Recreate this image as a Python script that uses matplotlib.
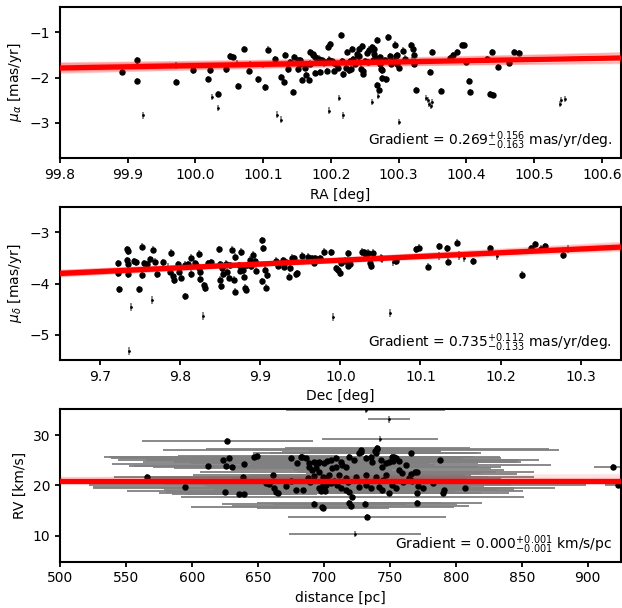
import numpy as np
import matplotlib
matplotlib.use('Agg')
import matplotlib.pyplot as plt

# ---- panel 1: RA vs proper motion in RA ----
ra = [99.891, 99.913, 99.913, 99.971, 99.997, 100.019, 100.021, 100.034, 100.045, 100.051,
      100.056, 100.063, 100.071, 100.079, 100.093, 100.103, 100.107, 100.117, 100.126, 100.131,
      100.132, 100.136, 100.144, 100.145, 100.151, 100.155, 100.151, 100.157, 100.162, 100.163,
      100.167, 100.169, 100.173, 100.177, 100.179, 100.169, 100.177, 100.174, 100.182, 100.187,
      100.192, 100.197, 100.201, 100.184, 100.194, 100.204, 100.196, 100.199, 100.207, 100.210,
      100.215, 100.216, 100.218, 100.222, 100.226, 100.229, 100.224, 100.231, 100.233, 100.235,
      100.240, 100.241, 100.238, 100.242, 100.244, 100.246, 100.248, 100.248, 100.250, 100.253,
      100.256, 100.261, 100.263, 100.264, 100.267, 100.268, 100.268, 100.271, 100.273, 100.275,
      100.274, 100.272, 100.275, 100.282, 100.285, 100.287, 100.288, 100.294, 100.296, 100.297,
      100.298, 100.301, 100.307, 100.319, 100.321, 100.322, 100.323, 100.325, 100.347, 100.349,
      100.362, 100.376, 100.381, 100.386, 100.394, 100.397, 100.399, 100.404, 100.406, 100.430,
      100.435, 100.439, 100.438, 100.447, 100.463, 100.470, 100.478, 100.185, 100.205, 100.228,
      100.255, 100.262, 100.280, 100.292, 100.310, 100.155, 100.140]
pmra = [-1.875, -1.62, -2.07, -2.10, -1.84, -2.03, -1.84, -2.36, -1.82, -1.53,
        -1.54, -2.19, -1.36, -1.85, -2.04, -2.22, -1.38, -1.59, -1.99, -2.10,
        -1.50, -1.82, -2.32, -1.54, -1.62, -1.62, -1.82, -2.06, -1.78, -1.95,
        -2.06, -1.44, -1.50, -1.54, -1.58, -1.69, -1.90, -1.47, -1.58, -1.62,
        -1.65, -1.60, -1.63, -1.88, -1.86, -1.86, -1.32, -1.25, -1.71, -1.78,
        -1.06, -1.63, -1.93, -1.78, -1.84, -1.80, -1.43, -1.36, -1.59, -1.70,
        -1.52, -1.37, -1.47, -1.53, -1.80, -1.31, -1.86, -1.91, -1.63, -1.45,
        -1.38, -1.32, -1.36, -1.48, -1.56, -1.17, -2.17, -2.28, -1.69, -1.84,
        -1.80, -1.55, -2.02, -2.04, -1.11, -1.53, -1.70, -1.27, -1.52, -1.50,
        -1.71, -1.78, -1.40, -1.28, -1.36, -1.50, -1.69, -2.28, -1.88, -1.44,
        -2.30, -1.56, -1.50, -1.43, -1.28, -1.28, -1.65, -2.08, -2.32, -1.59,
        -2.36, -2.38, -1.43, -1.76, -1.67, -1.43, -1.45, -1.66, -1.68, -1.64,
        -1.66, -1.60, -1.62, -1.63, -1.58, -1.70, -1.66]
ra_out = [99.922, 99.971, 100.024, 100.034, 100.062, 100.080, 100.120, 100.126, 100.197, 100.212,
          100.218, 100.261, 100.270, 100.300, 100.341, 100.343, 100.345, 100.348, 100.350, 100.538,
          100.540, 100.545, 100.100, 100.190, 100.320]
pmra_out = [-2.84, -1.73, -2.43, -2.68, -1.67, -1.70, -2.82, -2.93, -2.73, -2.45,
            -2.84, -2.54, -2.41, -2.99, -2.45, -2.50, -2.58, -2.62, -2.55, -2.58,
            -2.50, -2.47, -1.72, -1.70, -1.62]
pmra_fit = -1.68        # value at RA = 100.2
pmra_grad = 0.269
pmra_samples_grad = [0.11, 0.15, 0.19, 0.23, 0.27, 0.31, 0.35, 0.39, 0.43, 0.25, 0.29, 0.12, 0.42, 0.20]
pmra_samples_off = [-0.05, 0.06, -0.07, 0.04, 0.0, -0.04, 0.07, -0.02, 0.03, 0.08, -0.08, 0.03, -0.05, 0.02]

# ---- panel 2: Dec vs proper motion in Dec ----
dec = [9.723, 9.723, 9.724, 9.733, 9.735, 9.733, 9.735, 9.735, 9.742, 9.745,
       9.748, 9.752, 9.752, 9.755, 9.758, 9.762, 9.766, 9.769, 9.771, 9.778,
       9.787, 9.788, 9.791, 9.792, 9.797, 9.799, 9.801, 9.806, 9.806, 9.810,
       9.813, 9.814, 9.818, 9.820, 9.823, 9.824, 9.825, 9.825, 9.830, 9.831,
       9.835, 9.838, 9.849, 9.850, 9.852, 9.853, 9.850, 9.851, 9.857, 9.859,
       9.861, 9.862, 9.865, 9.868, 9.867, 9.869, 9.873, 9.875, 9.877, 9.876,
       9.879, 9.880, 9.881, 9.882, 9.883, 9.887, 9.889, 9.891, 9.893, 9.895,
       9.902, 9.904, 9.902, 9.906, 9.908, 9.907, 9.920, 9.922, 9.928, 9.930,
       9.932, 9.937, 9.936, 9.940, 9.942, 9.944, 9.946, 9.952, 9.960, 9.964,
       9.967, 9.968, 9.975, 9.979, 9.988, 9.995, 9.997, 10.000, 10.001, 10.006,
       10.009, 10.010, 10.012, 10.027, 10.030, 10.032, 10.034, 10.037, 10.038, 10.041,
       10.051, 10.070, 10.094, 10.098, 10.109, 10.123, 10.133, 10.134, 10.146, 10.165,
       10.187, 10.227, 10.2375, 10.243, 10.251, 10.255, 10.278]
pmdec = [-3.60, -3.80, -4.11, -3.33, -3.36, -3.54, -3.62, -3.81, -3.56, -3.58,
         -4.11, -3.28, -3.83, -3.60, -3.62, -3.52, -3.34, -3.57, -3.81, -3.58,
         -3.77, -3.40, -3.85, -3.93, -3.62, -3.77, -3.88, -4.25, -3.63, -3.62,
         -3.81, -3.49, -3.60, -3.63, -3.70, -3.42, -3.77, -3.91, -4.03, -4.09,
         -3.60, -3.58, -3.33, -3.62, -3.70, -3.81, -3.92, -4.05, -3.61, -3.77,
         -3.88, -3.64, -3.34, -3.48, -3.92, -4.16, -3.64, -3.75, -3.70, -3.38,
         -3.73, -3.86, -4.08, -4.12, -3.64, -3.53, -3.66, -3.43, -3.56, -3.75,
         -3.15, -3.31, -3.95, -3.73, -3.83, -4.08, -3.55, -3.65, -3.54, -3.67,
         -3.58, -3.70, -3.86, -3.49, -3.50, -3.82, -3.80, -3.45, -3.47, -3.50,
         -3.59, -3.50, -3.50, -3.38, -3.39, -3.70, -3.73, -3.79, -3.59, -3.55,
         -3.41, -3.65, -3.62, -3.38, -3.39, -3.44, -3.40, -3.60, -3.66, -3.40,
         -3.49, -3.56, -3.33, -3.30, -3.67, -3.27, -3.31, -3.57, -3.20, -3.56,
         -3.31, -3.83, -3.31, -3.23, -3.32, -3.27, -3.44]
dec_out = [9.736, 9.739, 9.765, 9.829, 9.991, 10.062, 10.123, 10.148, 10.154, 10.196,
           10.284, 10.052, 10.066, 9.785, 9.930]
pmdec_out = [-5.32, -4.46, -4.32, -4.63, -4.65, -4.58, -3.46, -3.45, -3.50, -3.45,
             -3.33, -3.52, -3.58, -3.68, -3.62]
pmdec_fit = -3.616      # value at Dec = 9.9
pmdec_grad = 0.735
pmdec_samples_grad = [0.60, 0.64, 0.68, 0.72, 0.76, 0.80, 0.84, 0.88, 0.70, 0.78, 0.62, 0.86]
pmdec_samples_off = [0.02, -0.03, 0.03, -0.02, 0.0, 0.03, -0.03, 0.02, 0.04, -0.04, 0.0, -0.01]

# ---- panel 3: distance vs radial velocity ----
dist = [566.2, 594.9, 612.3, 625.1, 623.9, 626.1, 626.9, 628.4, 630.1, 635.4,
        639.7, 638.5, 639.7, 647.3, 649.3, 656.1, 658.6, 661.1, 661.9, 663.7,
        664.9, 671.2, 675.2, 679.5, 678.7, 684.5, 683.1, 688.8, 691.3, 688.1,
        689.3, 692.6, 692.6, 694.3, 696.5, 700.0, 702.6, 699.0, 700.0, 701.0,
        698.0, 699.4, 682.6, 686.3, 688.9, 692.6, 695.2, 693.9, 696.4, 699.0,
        701.4, 704.0, 706.5, 709.0, 705.2, 709.0, 712.8, 714.0, 716.6, 719.0,
        722.8, 726.6, 727.9, 731.7, 735.4, 736.7, 739.2, 740.5, 743.0, 744.2,
        746.8, 749.3, 751.8, 754.3, 696.4, 699.0, 701.4, 705.2, 710.3, 712.8,
        716.6, 719.0, 721.6, 719.0, 720.3, 726.6, 731.7, 735.4, 741.7, 744.2,
        751.8, 754.3, 749.3, 698.9, 756.8, 759.4, 761.9, 764.4, 769.4, 746.8,
        739.2, 731.7, 724.1, 716.6, 711.5, 787.8, 770.7, 766.1, 766.4, 782.5,
        775.2, 771.4, 791.3, 790.2, 807.2, 770.7, 770.2, 732.9, 731.1, 766.1,
        753.0, 757.3, 752.5, 740.4, 739.0, 727.9, 919.4, 922.9, 675.0, 708.0,
        718.0, 745.0, 760.0]
rv = [21.6, 19.7, 23.9, 18.7, 25.0, 23.9, 28.9, 25.4, 23.7, 18.2,
      18.2, 21.7, 24.2, 25.6, 25.9, 20.4, 20.3, 22.0, 19.4, 18.7,
      18.5, 19.9, 25.4, 24.4, 19.1, 19.1, 25.7, 23.7, 23.0, 21.4,
      20.7, 21.9, 16.3, 24.4, 24.6, 24.4, 24.8, 20.0, 19.5, 18.9,
      18.9, 15.5, 25.7, 25.4, 24.4, 24.7, 24.4, 23.4, 22.7, 21.7,
      21.4, 22.0, 23.4, 23.7, 25.0, 25.4, 24.7, 24.0, 23.7, 25.7,
      25.0, 26.4, 27.0, 25.4, 25.7, 24.7, 26.4, 27.3, 25.0, 23.7,
      24.4, 24.7, 25.7, 25.4, 19.4, 19.7, 20.1, 20.4, 20.1, 19.4,
      19.1, 18.7, 17.7, 16.4, 15.8, 19.7, 20.1, 19.4, 19.7, 19.1,
      20.1, 19.4, 18.4, 15.6, 23.0, 22.4, 24.0, 21.4, 22.7, 22.0,
      21.7, 22.0, 21.7, 21.4, 22.0, 25.0, 22.7, 22.2, 20.9, 20.4,
      19.5, 19.9, 19.1, 18.5, 19.5, 18.4, 16.4, 13.6, 16.3, 26.5,
      25.7, 24.8, 24.8, 27.4, 26.8, 26.7, 23.6, 20.1, 20.8, 20.9,
      20.6, 21.0, 20.7]
dist_err = [25, 70, 60, 45, 80, 70, 65, 90, 60, 40,
            55, 75, 100, 110, 60, 50, 80, 60, 70, 45,
            90, 60, 130, 80, 100, 60, 150, 90, 60, 120,
            80, 50, 70, 60, 110, 80, 60, 90, 175, 150,
            80, 50, 70, 100, 60, 130, 80, 60, 90, 110,
            70, 60, 120, 80, 140, 60, 90, 70, 100, 60,
            140, 80, 150, 70, 60, 110, 80, 130, 60, 90,
            70, 100, 60, 80, 120, 60, 90, 70, 188, 60,
            100, 80, 130, 70, 90, 60, 110, 80, 70, 100,
            60, 90, 70, 100, 80, 60, 110, 70, 90, 60,
            120, 80, 100, 70, 60, 60, 60, 80, 90, 70,
            60, 50, 40, 50, 30, 40, 50, 60, 70, 50,
            60, 40, 60, 70, 50, 60, 15, 10, 160, 150,
            170, 130, 120]
dist_out = [749.2, 742.4, 723.6, 731.6]
rv_out = [33.1, 29.3, 10.3, 35.0]
dist_out_err = [16, 44, 50, 60]
rv_fit = 20.8           # value at distance = 720 pc
rv_grad = 0.000
rv_samples_grad = [0.0, 0.001, -0.001, 0.0015, 0.001, -0.0005, 0.0012, 0.0005]
rv_samples_off = [0.0, 0.3, -0.3, 1.0, 0.8, 0.6, 0.5, -0.5]

plt.rcParams['font.size'] = 10
plt.rcParams['axes.linewidth'] = 1.5
plt.rcParams['xtick.major.width'] = 1.3
plt.rcParams['ytick.major.width'] = 1.3

fig = plt.figure(figsize=(6.22, 6.08), dpi=100)
ax1 = fig.add_axes([0.0965, 0.7396, 0.9015, 0.2493])
ax2 = fig.add_axes([0.0965, 0.4079, 0.9015, 0.2510])
ax3 = fig.add_axes([0.0965, 0.0762, 0.9015, 0.2512])


def draw_fit(ax, xlim, pivot, value, grad, s_grad, s_off, alpha=0.13):
    xs = np.array(xlim)
    for g, o in zip(s_grad, s_off):
        ax.plot(xs, value + o + g * (xs - pivot), color='red', alpha=alpha, lw=1.5, zorder=3)
    ax.plot(xs, value + grad * (xs - pivot), color='red', lw=3.8, zorder=4)


# panel 1
ax1.errorbar(ra, pmra, yerr=0.07, fmt='o', color='k', ms=3.6, ecolor='gray', elinewidth=1.3, zorder=2)
ax1.errorbar(ra_out, pmra_out, yerr=0.07, fmt='.', color='k', ms=2, ecolor='gray', elinewidth=1.3, zorder=2)
draw_fit(ax1, (99.8, 100.628), 100.2, pmra_fit, pmra_grad, pmra_samples_grad, pmra_samples_off, 0.15)
ax1.set_xlim(99.8, 100.628)
ax1.set_ylim(-3.79, -0.43)
ax1.set_xticks(np.arange(99.8, 100.65, 0.1))
ax1.set_yticks([-3, -2, -1])
ax1.set_xlabel('RA [deg]')
ax1.set_ylabel(r'$\mu_\alpha$ [mas/yr]')
ax1.text(0.985, 0.04, r'Gradient = $0.269^{+0.156}_{-0.163}$ mas/yr/deg.',
         transform=ax1.transAxes, ha='right', va='bottom')

# panel 2
ax2.errorbar(dec, pmdec, yerr=0.07, fmt='o', color='k', ms=3.6, ecolor='gray', elinewidth=1.3, zorder=2)
ax2.errorbar(dec_out, pmdec_out, yerr=0.08, fmt='.', color='k', ms=2, ecolor='gray', elinewidth=1.3, zorder=2)
draw_fit(ax2, (9.65, 10.35), 9.9, pmdec_fit, pmdec_grad, pmdec_samples_grad, pmdec_samples_off, 0.15)
ax2.set_xlim(9.65, 10.35)
ax2.set_ylim(-5.49, -2.51)
ax2.set_xticks(np.arange(9.7, 10.35, 0.1))
ax2.set_yticks([-5, -4, -3])
ax2.set_xlabel('Dec [deg]')
ax2.set_ylabel(r'$\mu_\delta$ [mas/yr]')
ax2.text(0.985, 0.04, r'Gradient = $0.735^{+0.112}_{-0.133}$ mas/yr/deg.',
         transform=ax2.transAxes, ha='right', va='bottom')

# panel 3
ax3.errorbar(dist, rv, xerr=dist_err, yerr=0.6, fmt='o', color='k', ms=3.6, ecolor='gray', elinewidth=1.3, zorder=2)
ax3.errorbar(dist_out, rv_out, xerr=dist_out_err, yerr=0.6, fmt='.', color='k', ms=2, ecolor='gray', elinewidth=1.3, zorder=2)
draw_fit(ax3, (500, 925), 720, rv_fit, rv_grad, rv_samples_grad, rv_samples_off, 0.08)
ax3.set_xlim(500, 925)
ax3.set_ylim(4.8, 35.2)
ax3.set_xticks(np.arange(500, 901, 50))
ax3.set_yticks([10, 20, 30])
ax3.set_xlabel('distance [pc]')
ax3.set_ylabel('RV [km/s]')
ax3.text(0.985, 0.04, r'Gradient = $0.000^{+0.001}_{-0.001}$ km/s/pc',
         transform=ax3.transAxes, ha='right', va='bottom')

fig.savefig('out.png', dpi=100)
